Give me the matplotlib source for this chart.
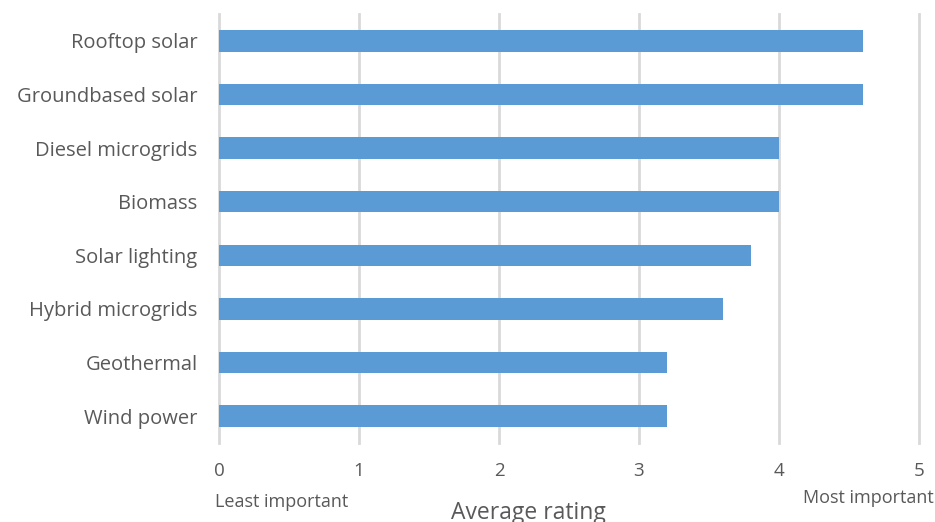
import matplotlib
matplotlib.use("Agg")
import matplotlib.pyplot as plt

categories = ["Rooftop solar", "Groundbased solar", "Diesel microgrids", "Biomass",
              "Solar lighting", "Hybrid microgrids", "Geothermal", "Wind power"]
ratings = [4.6, 4.6, 4.0, 4.0, 3.8, 3.6, 3.2, 3.2]
xticks = [0, 1, 2, 3, 4, 5]

plt.rcParams['font.family'] = ['Open Sans', 'DejaVu Sans']
text_color = "#595959"

fig = plt.figure(figsize=(9.35, 5.22), dpi=100)
ax = fig.add_axes([219/935, 1-443/522, 700/935, 429/522])

y = list(range(len(categories)))
ax.barh(y, ratings, height=0.40, color="#5b9bd5", zorder=3)
ax.set_ylim(len(categories)-0.5, -0.5)
ax.set_xlim(0, 5)
ax.set_xticks(xticks)
ax.set_xticklabels([str(t) for t in xticks], fontsize=13.5, color=text_color)
ax.set_yticks(y)
ax.set_yticklabels(categories, fontsize=14.5, color=text_color)
ax.tick_params(axis='both', length=0)
ax.tick_params(axis='x', pad=14)
ax.tick_params(axis='y', pad=15.5)
ax.grid(axis='x', color="#d9d9d9", linewidth=2, zorder=0)
for gl in ax.get_xgridlines():
    gl.set_clip_on(False)
for s in ax.spines.values():
    s.set_visible(False)

fig.text(215/935, 1-502/522, "Least important", fontsize=13, color=text_color,
         ha='left', va='center')
fig.text(934/935, 1-498/522, "Most important", fontsize=13, color=text_color,
         ha='right', va='center')
fig.text(528/935, 1-513/522, "Average rating", fontsize=16.5, color=text_color,
         ha='center', va='center')

fig.savefig("out.png", dpi=100)
